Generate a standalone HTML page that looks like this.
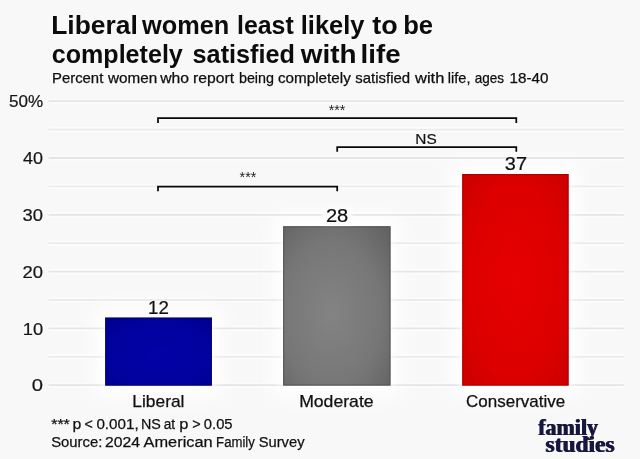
<!DOCTYPE html>
<html lang="en">
<head>
<meta charset="utf-8">
<title>Liberal women least likely to be completely satisfied with life</title>
<style>
  html, body { margin: 0; padding: 0; background: #f8f8f8; }
  body { width: 640px; height: 459px; overflow: hidden; }
  svg { display: block; }
  text { font-family: "Liberation Sans", sans-serif; fill: #1a1a1a; stroke-width: 0; }
  .title { font-weight: bold; font-size: 26px; fill: #0c0c0c; }
  .sub { font-size: 14.8px; fill: #0e0e0e; stroke: #0e0e0e; stroke-width: 0.25px; }
  .axis { font-size: 17px; fill: #141414; stroke: #141414; stroke-width: 0.2px; }
  .val { font-size: 18px; fill: #101010; stroke: #101010; stroke-width: 0.2px; }
  .cat { font-size: 16.6px; fill: #101010; stroke: #101010; stroke-width: 0.25px; }
  .note { font-size: 15.5px; fill: #101010; stroke: #101010; stroke-width: 0.25px; }
  .sig { font-size: 15px; fill: #1c1c1c; }
  .ns { font-size: 14px; fill: #121212; stroke: #121212; stroke-width: 0.2px; }
  .logo { font-family: "Liberation Serif", serif; font-weight: bold; font-size: 23px; fill: #17173f; filter: url(#fat); }
  .grid line { stroke: #e5e5e8; stroke-width: 1.8; }
  .grid line.m { stroke: #ebebed; }
  .grid line.h { stroke: #fcfcfc; stroke-width: 5; }
  .br { fill: none; stroke: #080808; stroke-width: 1.75; }
</style>
</head>
<body>
<svg width="640" height="459" viewBox="0 0 640 459">
  <defs>
    <radialGradient id="gBlue" cx="50%" cy="55%" r="75%">
      <stop offset="0" stop-color="#0202a6"/>
      <stop offset="0.7" stop-color="#01019c"/>
      <stop offset="1" stop-color="#00008a"/>
    </radialGradient>
    <radialGradient id="gGray" cx="45%" cy="55%" r="75%">
      <stop offset="0" stop-color="#838383"/>
      <stop offset="0.6" stop-color="#777777"/>
      <stop offset="1" stop-color="#626262"/>
    </radialGradient>
    <radialGradient id="gRed" cx="50%" cy="50%" r="75%">
      <stop offset="0" stop-color="#e60000"/>
      <stop offset="0.6" stop-color="#dc0000"/>
      <stop offset="1" stop-color="#c80000"/>
    </radialGradient>
    <filter id="fat" x="-5%" y="-10%" width="110%" height="120%"><feOffset dx="1" dy="0" result="a"/><feMerge><feMergeNode in="a"/><feMergeNode in="SourceGraphic"/></feMerge></filter>
    <filter id="halo" x="-40%" y="-40%" width="180%" height="180%"><feGaussianBlur stdDeviation="9"/></filter>
    <filter id="halo2" x="-40%" y="-40%" width="180%" height="180%"><feGaussianBlur stdDeviation="4"/></filter>
    <filter id="blur" x="-20%" y="-20%" width="140%" height="140%"><feGaussianBlur stdDeviation="2.2"/></filter>
  </defs>

  <rect x="0" y="0" width="640" height="459" fill="#f8f8f8"/>

  <g filter="url(#halo)" fill="#ffffff" opacity="0.8">
    <rect x="93" y="305.5" width="131" height="92"/>
    <rect x="271" y="214.2" width="131.5" height="183.3"/>
    <rect x="450" y="161.8" width="131" height="235.7"/>
  </g>
  <g class="grid">
    <line class="h" x1="48.5" x2="624" y1="101.2" y2="101.2"/>
    <line x1="48.5" x2="623.8" y1="101.2" y2="101.2"/>
    <line class="h" x1="48.5" x2="624" y1="129.6" y2="129.6"/>
    <line class="m" x1="48.5" x2="623.8" y1="129.6" y2="129.6"/>
    <line class="h" x1="48.5" x2="624" y1="158.0" y2="158.0"/>
    <line x1="48.5" x2="623.8" y1="158.0" y2="158.0"/>
    <line class="h" x1="48.5" x2="624" y1="186.4" y2="186.4"/>
    <line class="m" x1="48.5" x2="623.8" y1="186.4" y2="186.4"/>
    <line class="h" x1="48.5" x2="624" y1="214.8" y2="214.8"/>
    <line x1="48.5" x2="623.8" y1="214.8" y2="214.8"/>
    <line class="h" x1="48.5" x2="624" y1="243.2" y2="243.2"/>
    <line class="m" x1="48.5" x2="623.8" y1="243.2" y2="243.2"/>
    <line class="h" x1="48.5" x2="624" y1="271.6" y2="271.6"/>
    <line x1="48.5" x2="623.8" y1="271.6" y2="271.6"/>
    <line class="h" x1="48.5" x2="624" y1="300.0" y2="300.0"/>
    <line class="m" x1="48.5" x2="623.8" y1="300.0" y2="300.0"/>
    <line class="h" x1="48.5" x2="624" y1="328.4" y2="328.4"/>
    <line x1="48.5" x2="623.8" y1="328.4" y2="328.4"/>
    <line class="h" x1="48.5" x2="624" y1="356.8" y2="356.8"/>
    <line class="m" x1="48.5" x2="623.8" y1="356.8" y2="356.8"/>
    <line class="h" x1="48.5" x2="624" y1="385.2" y2="385.2"/>
    <line x1="48.5" x2="623.8" y1="385.2" y2="385.2"/>
  </g>
  <g filter="url(#halo2)" fill="#ffffff" opacity="0.65">
    <rect x="101" y="313.5" width="115" height="76"/>
    <rect x="279" y="222.2" width="115.5" height="167.3"/>
    <rect x="458" y="169.8" width="115" height="219.7"/>
  </g>

  <rect x="105.2" y="317.6" width="106.7" height="68" fill="url(#gBlue)"/>
  <rect x="283.1" y="226.2" width="107.4" height="159.4" fill="url(#gGray)"/>
  <rect x="462.2" y="174" width="106.4" height="211.6" fill="url(#gRed)"/>
  <g fill="none" stroke-width="1.2">
    <rect x="105.8" y="318.2" width="105.5" height="66.8" stroke="#000070" opacity="0.75"/>
    <rect x="283.7" y="226.8" width="106.2" height="158.2" stroke="#505050" opacity="0.75"/>
    <rect x="462.8" y="174.6" width="105.2" height="210.4" stroke="#a80000" opacity="0.75"/>
  </g>

  <rect x="322" y="206.5" width="30" height="17" fill="#fcfcfc" filter="url(#blur)"/>
  <path class="br" d="M158 123 V118 H516.3 V123"/>
  <path class="br" d="M337.2 151.8 V147.1 H516.3 V151.8"/>
  <path class="br" d="M158 191.2 V186.7 H337.2 V191.2"/>

  <text class="title" y="33.5"><tspan x="51.22" textLength="86.57" lengthAdjust="spacingAndGlyphs">Liberal</tspan> <tspan x="142.02" textLength="87.19" lengthAdjust="spacingAndGlyphs">women</tspan> <tspan x="237.0" textLength="56.74" lengthAdjust="spacingAndGlyphs">least</tspan> <tspan x="300.78" textLength="63.74" lengthAdjust="spacingAndGlyphs">likely</tspan> <tspan x="372.21" textLength="25.39" lengthAdjust="spacingAndGlyphs">to</tspan> <tspan x="403.14" textLength="29.9" lengthAdjust="spacingAndGlyphs">be</tspan></text>
  <text class="title" y="63.0"><tspan x="51.74" textLength="131.08" lengthAdjust="spacingAndGlyphs">completely</tspan> <tspan x="192.58" textLength="102.44" lengthAdjust="spacingAndGlyphs">satisfied</tspan> <tspan x="300.8" textLength="55.8" lengthAdjust="spacingAndGlyphs">with</tspan> <tspan x="360.6" textLength="39.97" lengthAdjust="spacingAndGlyphs">life</tspan></text>
  <text class="sub" y="83.4"><tspan x="52.03" textLength="51.25" lengthAdjust="spacingAndGlyphs">Percent</tspan> <tspan x="108.03" textLength="49.21" lengthAdjust="spacingAndGlyphs">women</tspan> <tspan x="160.18" textLength="28.88" lengthAdjust="spacingAndGlyphs">who</tspan> <tspan x="192.91" textLength="41.12" lengthAdjust="spacingAndGlyphs">report</tspan> <tspan x="238.92" textLength="35.1" lengthAdjust="spacingAndGlyphs">being</tspan> <tspan x="277.92" textLength="72.91" lengthAdjust="spacingAndGlyphs">completely</tspan> <tspan x="355.29" textLength="54.86" lengthAdjust="spacingAndGlyphs">satisfied</tspan> <tspan x="415.04" textLength="29.37" lengthAdjust="spacingAndGlyphs">with</tspan> <tspan x="447.79" textLength="22.68" lengthAdjust="spacingAndGlyphs">life,</tspan> <tspan x="474.65" textLength="29.31" lengthAdjust="spacingAndGlyphs">ages</tspan> <tspan x="509.55" textLength="38.87" lengthAdjust="spacingAndGlyphs">18-40</tspan></text>
  <text class="axis" x="9.07" y="107.2" textLength="34.09" lengthAdjust="spacingAndGlyphs">50%</text>
  <text class="axis" x="23.07" y="164.2" textLength="19.96" lengthAdjust="spacingAndGlyphs">40</text>
  <text class="axis" x="22.61" y="220.9" textLength="20.47" lengthAdjust="spacingAndGlyphs">30</text>
  <text class="axis" x="22.62" y="277.7" textLength="20.47" lengthAdjust="spacingAndGlyphs">20</text>
  <text class="axis" x="22.8" y="334.5" textLength="20.35" lengthAdjust="spacingAndGlyphs">10</text>
  <text class="axis" x="31.87" y="391.2" textLength="11.26" lengthAdjust="spacingAndGlyphs">0</text>
  <text class="val" x="148.09" y="313.8" textLength="20.84" lengthAdjust="spacingAndGlyphs">12</text>
  <text class="val" x="325.95" y="222.0" textLength="22.33" lengthAdjust="spacingAndGlyphs">28</text>
  <text class="val" x="504.88" y="170.0" textLength="22.21" lengthAdjust="spacingAndGlyphs">37</text>
  <text class="sig" x="328.75" y="114.91" textLength="16.65" lengthAdjust="spacingAndGlyphs">***</text>
  <text class="sig" x="239.59" y="182.49" textLength="16.72" lengthAdjust="spacingAndGlyphs">***</text>
  <text class="ns" x="415.35" y="143.8" textLength="21.38" lengthAdjust="spacingAndGlyphs">NS</text>
  <text class="cat" x="132.35" y="407.1" textLength="52.07" lengthAdjust="spacingAndGlyphs">Liberal</text>
  <text class="cat" x="299.15" y="407.1" textLength="74.45" lengthAdjust="spacingAndGlyphs">Moderate</text>
  <text class="cat" x="466.08" y="407.1" textLength="99.1" lengthAdjust="spacingAndGlyphs">Conservative</text>
  <text class="note" y="429.4"><tspan x="51.2" textLength="18.64" lengthAdjust="spacingAndGlyphs">***</tspan> <tspan x="72.46" textLength="8.81" lengthAdjust="spacingAndGlyphs">p</tspan> <tspan x="84.61" textLength="8.31" lengthAdjust="spacingAndGlyphs">&lt;</tspan> <tspan x="96.4" textLength="42.26" lengthAdjust="spacingAndGlyphs">0.001,</tspan> <tspan x="141.06" textLength="19.87" lengthAdjust="spacingAndGlyphs">NS</tspan> <tspan x="163.71" textLength="11.44" lengthAdjust="spacingAndGlyphs">at</tspan> <tspan x="179.22" textLength="9.14" lengthAdjust="spacingAndGlyphs">p</tspan> <tspan x="192.26" textLength="8.42" lengthAdjust="spacingAndGlyphs">&gt;</tspan> <tspan x="203.8" textLength="28.79" lengthAdjust="spacingAndGlyphs">0.05</tspan></text>
  <text class="note" y="446.9"><tspan x="51.18" textLength="51.2" lengthAdjust="spacingAndGlyphs">Source:</tspan> <tspan x="105.01" textLength="35.05" lengthAdjust="spacingAndGlyphs">2024</tspan> <tspan x="143.54" textLength="69.13" lengthAdjust="spacingAndGlyphs">American</tspan> <tspan x="216.11" textLength="38.74" lengthAdjust="spacingAndGlyphs">Family</tspan> <tspan x="258.7" textLength="45.88" lengthAdjust="spacingAndGlyphs">Survey</tspan></text>
  <text class="logo" x="537.72" y="435.2" textLength="59.75" lengthAdjust="spacingAndGlyphs">family</text>
  <text class="logo" x="545.0" y="452.1" textLength="69.16" lengthAdjust="spacingAndGlyphs">studies</text>
</svg>
</body>
</html>
